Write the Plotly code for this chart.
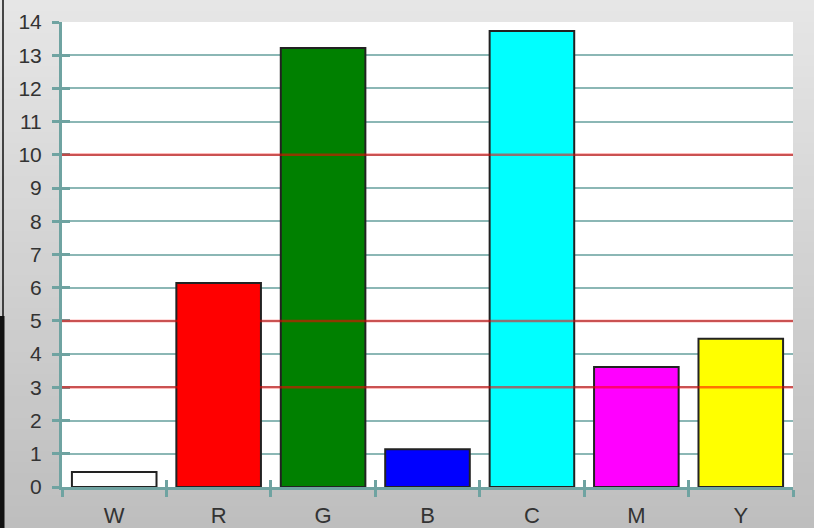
import plotly.graph_objects as go

categories = ["W", "R", "G", "B", "C", "M", "Y"]
values = [0.45, 6.14, 13.22, 1.14, 13.73, 3.61, 4.46]
bar_colors = ["#ffffff", "#ff0000", "#008000", "#0000ff", "#00ffff", "#ff00ff", "#ffff00"]
ref_lines = [3, 5, 10]
y_ticks = list(range(0, 15))

W, H = 814, 528
L, R, T, B = 62, 21, 22, 41
pw, ph = W - L - R, H - T - B

def px_x(x):
    return (x - L) / pw

def px_y(y):
    return (H - B - y) / ph

fig = go.Figure()
fig.add_trace(go.Bar(
    x=categories, y=values,
    marker=dict(color=bar_colors, line=dict(color="#222222", width=2)),
    hoverinfo="skip",
))
# invisible trace to anchor overlay axes (cross ticks)
fig.add_trace(go.Bar(x=categories, y=values, xaxis="x2", yaxis="y2",
                     marker=dict(color="rgba(0,0,0,0)", line=dict(width=0)),
                     hoverinfo="skip", showlegend=False))

shapes = []
# gradient background
n = 48
top_c, bot_c = (230, 230, 230), (190, 190, 190)
for i in range(n):
    f = i / (n - 1)
    c = tuple(round(top_c[k] + (bot_c[k] - top_c[k]) * f) for k in range(3))
    y0 = px_y(i * H / n)
    y1 = px_y((i + 1) * H / n + 1)
    shapes.append(dict(type="rect", xref="paper", yref="paper", x0=px_x(0), x1=px_x(W),
                       y0=y1, y1=y0, fillcolor="rgb(%d,%d,%d)" % c, line=dict(width=0), layer="below"))
# white plot area
shapes.append(dict(type="rect", xref="paper", yref="paper", x0=0, x1=1, y0=0, y1=1,
                   fillcolor="#ffffff", line=dict(width=0), layer="below"))
# left edge black line
shapes.append(dict(type="line", xref="paper", yref="paper", x0=px_x(3), x1=px_x(3),
                   y0=px_y(0), y1=px_y(316), line=dict(color="#111", width=1.5), layer="above"))
shapes.append(dict(type="rect", xref="paper", yref="paper", x0=px_x(0), x1=px_x(4.5),
                   y0=px_y(528), y1=px_y(316), fillcolor="#111", line=dict(width=0), layer="above"))
# red reference lines
for v in ref_lines:
    shapes.append(dict(type="line", xref="paper", yref="y", x0=0, x1=1, y0=v, y1=v,
                       line=dict(color="rgba(255,0,0,0.55)", width=2.5), layer="above"))

axis_col = "#6fa3a1"
grid_col = "#8bb7b5"
font = dict(family="Liberation Sans, Arial, sans-serif", size=21, color="#333333")
xfont = dict(family="Liberation Sans, Arial, sans-serif", size=22, color="#333333")

fig.update_layout(
    width=W, height=H,
    margin=dict(l=L, r=R, t=T, b=B, pad=0, autoexpand=False),
    paper_bgcolor="#d6d6d6",
    plot_bgcolor="rgba(0,0,0,0)",
    showlegend=False,
    bargap=0.19,
    barmode="overlay",
    shapes=shapes,
    font=font,
    xaxis=dict(type="category", tickson="boundaries", ticks="outside", ticklen=7, tickwidth=3,
               tickcolor=axis_col, showline=True, linecolor=axis_col, linewidth=3,
               showgrid=False, tickfont=xfont, ticklabelstandoff=7, range=[-0.5, 6.5],
               automargin=False),
    yaxis=dict(range=[0, 14], tickvals=y_ticks, ticks="outside", ticklen=7, tickwidth=3,
               tickcolor=axis_col, showline=True, linecolor=axis_col, linewidth=3,
               showgrid=True, gridcolor=grid_col, gridwidth=2, zeroline=False,
               tickfont=font, ticklabelstandoff=6, automargin=False),
    xaxis2=dict(type="category", overlaying="x", tickson="boundaries", ticks="inside", ticklen=7,
                tickwidth=3, tickcolor=axis_col, showticklabels=False, showgrid=False,
                showline=False, range=[-0.5, 6.5], side="bottom", anchor="y2", automargin=False),
    yaxis2=dict(overlaying="y", range=[0, 14], tickvals=y_ticks, ticks="inside", ticklen=8,
                tickwidth=3, tickcolor=axis_col, showticklabels=False, showgrid=False,
                showline=False, zeroline=False, side="left", anchor="x2", automargin=False),
)

fig.write_html("out.html", config={"displayModeBar": False},
               post_script="document.body.style.margin='0';document.body.style.padding='0';")
